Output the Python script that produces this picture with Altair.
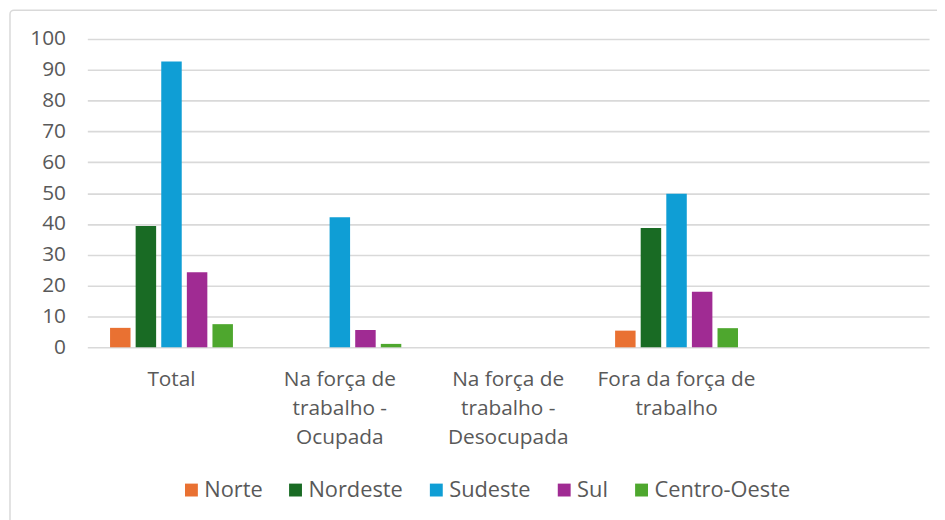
import altair as alt
import pandas as pd

# Category labels ("|" marks a line break in the axis label)
categories = [
    "Total",
    "Na força de|trabalho -|Ocupada",
    "Na força de|trabalho -|Desocupada",
    "Fora da força de|trabalho",
    " ",
]
regions = ["Norte", "Nordeste", "Sudeste", "Sul", "Centro-Oeste"]
colors = ["#E97132", "#196B24", "#0F9ED5", "#A02B93", "#4EA72E"]

norte = [6.3, None, None, 5.4]
nordeste = [39.3, None, None, 38.7]
sudeste = [92.7, 42.2, None, 49.8]
sul = [24.3, 5.6, None, 18.0]
centro_oeste = [7.5, 1.1, None, 6.2]

series = [norte, nordeste, sudeste, sul, centro_oeste]
rows = []
for reg, vals in zip(regions, series):
    for cat, v in zip(categories, vals):
        if v is not None:
            rows.append({"categoria": cat, "regiao": reg, "valor": v})
df = pd.DataFrame(rows)

FONT = "Open Sans"
GRAY = "#595959"

bars = alt.Chart(df).mark_bar().encode(
    x=alt.X(
        "categoria:N",
        scale=alt.Scale(domain=categories, paddingInner=0.27, paddingOuter=0.135),
        axis=alt.Axis(
            title=None,
            labelAngle=0,
            labelExpr="split(datum.label, '|')",
            labelFontSize=21,
            labelFont=FONT,
            labelColor=GRAY,
            labelLineHeight=29,
            labelPadding=22,
            labelBaseline="top",
            ticks=False,
            tickSize=0,
            domain=False,
            grid=False,
        ),
    ),
    xOffset=alt.XOffset(
        "regiao:N",
        scale=alt.Scale(domain=regions, paddingInner=0.2, paddingOuter=0),
    ),
    y=alt.Y(
        "valor:Q",
        scale=alt.Scale(domain=[0, 100], nice=False),
        axis=alt.Axis(
            title=None,
            values=list(range(0, 101, 10)),
            labelFontSize=21,
            labelFont=FONT,
            labelColor=GRAY,
            labelPadding=22,
            ticks=False,
            tickSize=0,
            domain=False,
            gridColor="#d9d9d9",
            gridWidth=1.6,
        ),
    ),
    color=alt.Color(
        "regiao:N",
        scale=alt.Scale(domain=regions, range=colors),
        legend=alt.Legend(
            title=None,
            orient="none",
            direction="horizontal",
            legendX=94,
            legendY=444,
            symbolType="square",
            symbolSize=169,
            symbolStrokeWidth=0,
            labelFontSize=22,
            labelFont=FONT,
            labelColor=GRAY,
            labelOffset=2,
            columnPadding=22,
        ),
    ),
)

border = alt.Chart(alt.Data(values=[{"b": 1}])).mark_rect(
    fill=None, stroke="#d9d9d9", strokeWidth=1.5, cornerRadius=4
).encode(
    x=alt.value(-78),
    x2=alt.value(890),
    y=alt.value(-29),
    y2=alt.value(505),
)

chart = alt.layer(border, bars).properties(
    width=849,
    height=311,
    padding={"left": 80, "top": 29, "right": 8, "bottom": 172},
    autosize=alt.AutoSizeParams(type="none"),
    background="white",
).configure_view(stroke=None)

chart.save("out.html", embed_options={"renderer": "svg", "actions": False})
